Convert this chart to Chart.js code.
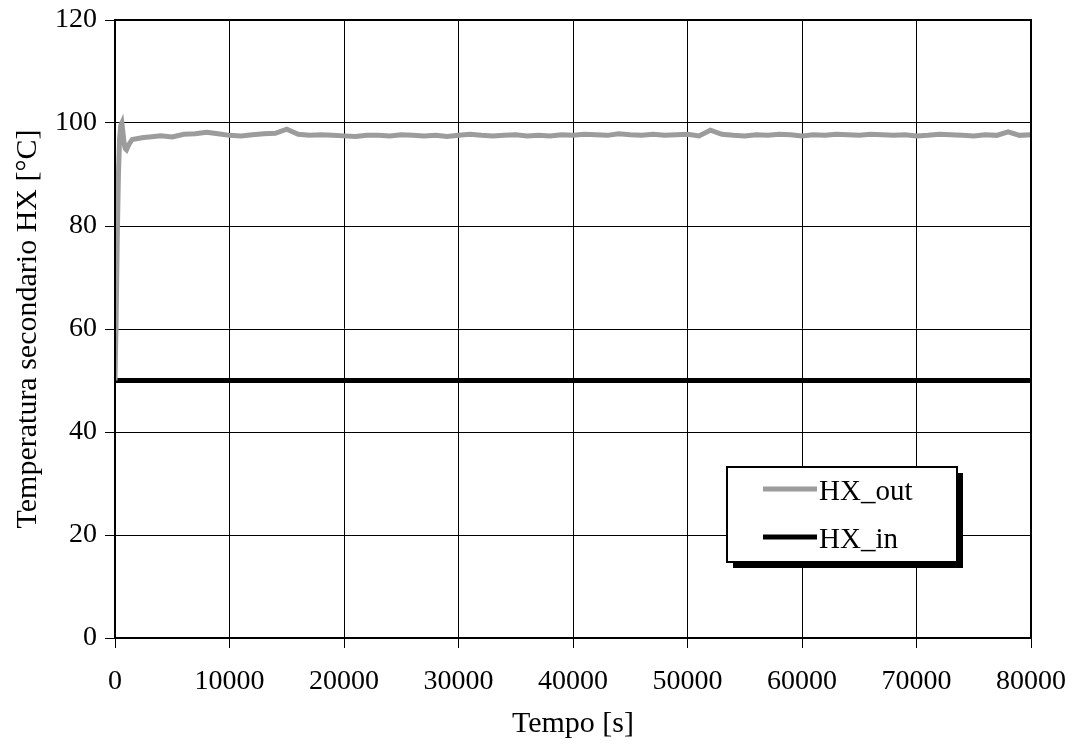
<!DOCTYPE html>
<html>
<head>
<meta charset="utf-8">
<script src="https://cdn.jsdelivr.net/npm/chart.js@4.4.0/dist/chart.umd.min.js"></script>
<style>
  html, body { margin: 0; padding: 0; background: #fff; }
  #wrap { width: 1074px; height: 750px; }
</style>
</head>
<body>
<div id="wrap"><canvas id="myChart" width="1074" height="750"></canvas></div>
<script>
// tempo [s] / temperatura [°C]
const timeOut = [0, 100, 200, 300, 400, 500, 600, 700, 800, 900, 1000, 1200, 1500, 2000, 2500, 3000,
  4000, 5000, 6000, 7000, 8000, 9000, 10000, 11000, 12000, 13000, 14000, 15000, 16000, 17000, 18000, 19000,
  20000, 21000, 22000, 23000, 24000, 25000, 26000, 27000, 28000, 29000, 30000, 31000, 32000, 33000, 34000,
  35000, 36000, 37000, 38000, 39000, 40000, 41000, 42000, 43000, 44000, 45000, 46000, 47000, 48000, 49000,
  50000, 51000, 52000, 53000, 54000, 55000, 56000, 57000, 58000, 59000, 60000, 61000, 62000, 63000, 64000,
  65000, 66000, 67000, 68000, 69000, 70000, 71000, 72000, 73000, 74000, 75000, 76000, 77000, 78000, 79000, 80000];
const hxOut = [50, 62, 78, 90, 97, 99.5, 100, 98, 96, 95, 94.8, 95.8, 96.8, 97.0, 97.2, 97.3,
  97.5, 97.3, 97.8, 97.9, 98.2, 97.9, 97.6, 97.5, 97.7, 97.9, 98.0, 98.8, 97.8, 97.6, 97.7, 97.6,
  97.5, 97.4, 97.6, 97.6, 97.5, 97.7, 97.6, 97.5, 97.6, 97.4, 97.6, 97.8, 97.6, 97.5, 97.6,
  97.7, 97.5, 97.6, 97.5, 97.7, 97.6, 97.8, 97.7, 97.6, 97.9, 97.7, 97.6, 97.8, 97.6, 97.7,
  97.8, 97.5, 98.6, 97.8, 97.6, 97.5, 97.7, 97.6, 97.8, 97.7, 97.5, 97.7, 97.6, 97.8, 97.7,
  97.6, 97.8, 97.7, 97.6, 97.7, 97.5, 97.6, 97.8, 97.7, 97.6, 97.5, 97.7, 97.6, 98.3, 97.6, 97.7];
const timeIn = [0, 80000];
const hxIn = [50, 50];
const xTicks = [0, 10000, 20000, 30000, 40000, 50000, 60000, 70000, 80000];
const yTicks = [0, 20, 40, 60, 80, 100, 120];

const FONT = 'Liberation Serif';

// cornice attorno all'area del grafico
const framePlugin = {
  id: 'frame',
  afterDraw(chart) {
    const { ctx, chartArea: a } = chart;
    ctx.save();
    ctx.strokeStyle = '#000';
    ctx.lineWidth = 2;
    ctx.strokeRect(a.left, a.top, a.right - a.left, a.bottom - a.top);
    ctx.restore();
  }
};

// legenda nel riquadro con ombra
const boxLegend = {
  id: 'boxLegend',
  afterDraw(chart) {
    const { ctx } = chart;
    const x = 727, y = 467, w = 230, h = 95;
    ctx.save();
    ctx.fillStyle = '#000';
    ctx.fillRect(x + 6, y + 6, w, h);
    ctx.fillStyle = '#fff';
    ctx.fillRect(x, y, w, h);
    ctx.strokeStyle = '#000';
    ctx.lineWidth = 2;
    ctx.strokeRect(x, y, w, h);
    ctx.font = '29px "' + FONT + '"';
    ctx.textBaseline = 'middle';
    chart.data.datasets.forEach((ds, i) => {
      const ly = y + 22 + i * 48;
      ctx.strokeStyle = ds.borderColor;
      ctx.lineWidth = ds.borderWidth;
      ctx.beginPath();
      ctx.moveTo(x + 36, ly);
      ctx.lineTo(x + 90, ly);
      ctx.stroke();
      ctx.fillStyle = '#000';
      ctx.fillText(ds.label, x + 92, ly + 3);
    });
    ctx.restore();
  }
};

const ctx = document.getElementById('myChart').getContext('2d');
const chart = new Chart(ctx, {
  type: 'line',
  data: {
    datasets: [{
      label: 'HX_out',
      data: timeOut.map((t, i) => ({ x: t, y: hxOut[i] })),
      borderColor: '#9c9c9c',
      borderWidth: 5,
      pointRadius: 0,
      tension: 0
    }, {
      label: 'HX_in',
      data: timeIn.map((t, i) => ({ x: t, y: hxIn[i] })),
      borderColor: '#000',
      borderWidth: 5,
      pointRadius: 0,
      tension: 0
    }]
  },
  options: {
    responsive: false,
    animation: false,
    layout: { padding: { top: 20, right: 43, left: 0, bottom: 0 } },
    plugins: {
      legend: { display: false },
      tooltip: { enabled: false }
    },
    scales: {
      x: {
        type: 'linear',
        min: 0, max: 80000,
        afterBuildTicks: (s) => { s.ticks = xTicks.map(v => ({ value: v })); },
        afterFit: (s) => { s.height = 112; s.paddingLeft = 0; s.paddingRight = 0; },
        grid: { color: '#000', lineWidth: 1, tickLength: 10 },
        border: { color: '#000', width: 2 },
        ticks: {
          color: '#000', padding: 17, maxRotation: 0,
          font: { family: FONT, size: 28 },
          callback: (v) => String(v)
        },
        title: {
          display: true, text: 'Tempo [s]', color: '#000',
          font: { family: FONT, size: 30 },
          padding: { top: 0, bottom: 8 }
        }
      },
      y: {
        min: 0, max: 120,
        afterBuildTicks: (s) => { s.ticks = yTicks.map(v => ({ value: v })); },
        afterFit: (s) => { s.width = 115; s.paddingTop = 0; s.paddingBottom = 0; },
        grid: { color: '#000', lineWidth: 1, tickLength: 10 },
        border: { color: '#000', width: 2 },
        ticks: {
          color: '#000', padding: 8,
          font: { family: FONT, size: 28 },
          callback: (v) => String(v)
        },
        title: {
          display: true, text: 'Temperatura secondario HX [°C]', color: '#000',
          font: { family: FONT, size: 30 },
          padding: { top: 10, bottom: 0 }
        }
      }
    }
  },
  plugins: [framePlugin, boxLegend]
});
</script>
</body>
</html>
